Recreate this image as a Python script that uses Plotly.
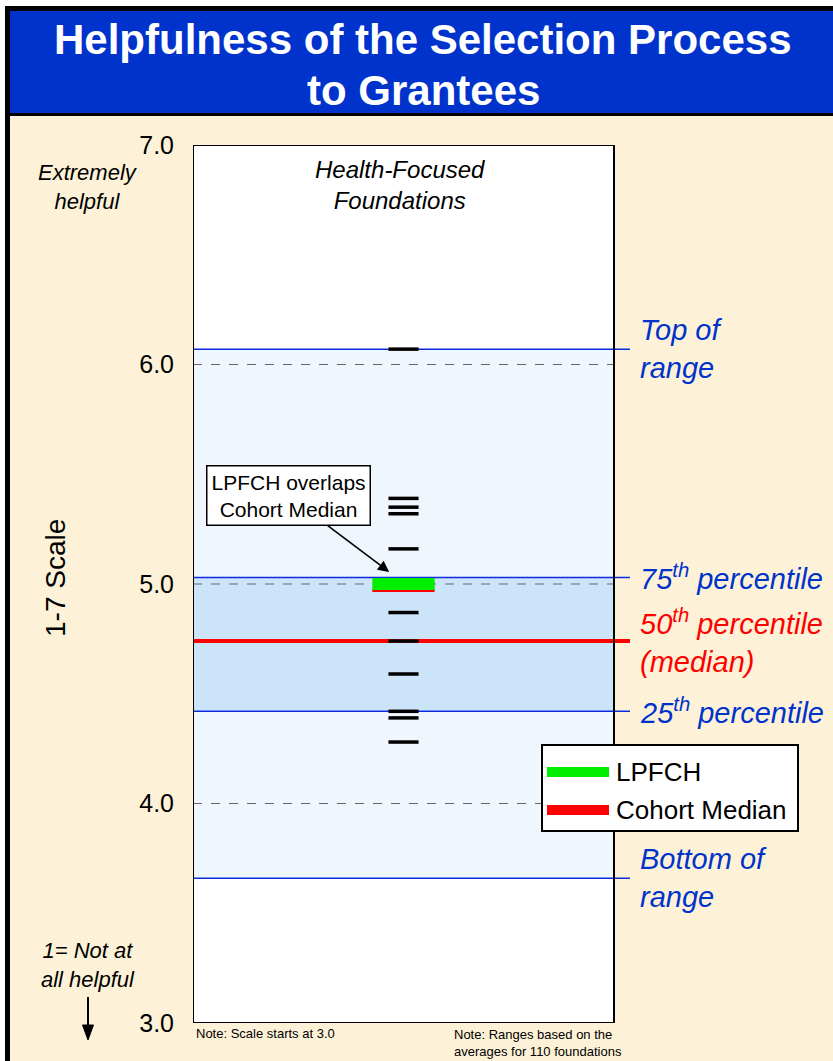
import plotly.graph_objects as go

# ---------------- data ----------------
cohort_label = "Health-Focused<br>Foundations"
foundation_averages = [6.07, 5.39, 5.35, 5.32, 5.16, 4.87, 4.74, 4.59, 4.42, 4.39, 4.28]
lpfch_score = 5.00
cohort_median = 4.97
range_names = ["Top of<br>range", "75<sup>th</sup> percentile", "50<sup>th</sup> percentile<br>(median)",
               "25<sup>th</sup> percentile", "Bottom of<br>range"]
range_values = [6.07, 5.03, 4.74, 4.42, 3.66]
range_colors = ["#0033CC", "#0033CC", "#FF0000", "#0033CC", "#0033CC"]
y_ticks = [3.0, 4.0, 5.0, 6.0, 7.0]
grid_lines = [4.0, 5.0, 6.0]
legend_names = ["LPFCH", "Cohort Median"]
legend_colors = ["#00EE00", "#FF0000"]

# ---------------- layout geometry ----------------
W, H = 833, 1061
L, R, T, B = 193, 660, 145, 1023      # plot area in pixels
PW, PH = R - L, B - T
X_MAX = PW / 421.0                    # x data 0..1 is the white chart box
FONT = "Liberation Sans, Arial, sans-serif"
CREAM = "#FDF2D7"
LINE_BLUE = "#0A2BE0"


def px(x):
    return (x - L) / PW


def py(y):
    return (B - y) / PH


CENTER = 0.5
TICK_HALF = 0.074
EXT = 1.038

fig = go.Figure()

# foundation averages (black dashes)
fig.add_trace(go.Scatter(
    x=[CENTER] * len(foundation_averages), y=foundation_averages, mode="markers",
    marker=dict(symbol="line-ew", size=21.5, line=dict(color="black", width=3.5)),
    showlegend=False, hoverinfo="y"))

# cohort median (red) and LPFCH (green)
fig.add_trace(go.Scatter(
    x=[CENTER - TICK_HALF, CENTER + TICK_HALF], y=[cohort_median, cohort_median],
    mode="lines", line=dict(color="#FF0000", width=3), showlegend=False, name="Cohort Median"))
fig.add_trace(go.Scatter(
    x=[CENTER - TICK_HALF, CENTER + TICK_HALF], y=[lpfch_score, lpfch_score],
    mode="lines", line=dict(color="#00EE00", width=12), showlegend=False, name="LPFCH"))

shapes = []
# page decorations
shapes.append(dict(type="rect", xref="paper", yref="paper", x0=px(0), x1=px(W), y0=py(0), y1=py(6),
                   fillcolor="white", line=dict(width=0), layer="below"))
shapes.append(dict(type="rect", xref="paper", yref="paper", x0=px(0), x1=px(5), y0=py(0), y1=py(H),
                   fillcolor="white", line=dict(width=0), layer="below"))
shapes.append(dict(type="rect", xref="paper", yref="paper", x0=px(5), x1=px(W), y0=py(6), y1=py(116),
                   fillcolor="black", line=dict(width=0), layer="below"))
shapes.append(dict(type="rect", xref="paper", yref="paper", x0=px(10), x1=px(W), y0=py(11), y1=py(113),
                   fillcolor="#0033CC", line=dict(width=0), layer="below"))
shapes.append(dict(type="rect", xref="paper", yref="paper", x0=px(5), x1=px(10), y0=py(6), y1=py(H),
                   fillcolor="black", line=dict(width=0), layer="below"))
# down arrow at bottom left
shapes.append(dict(type="line", xref="paper", yref="paper", x0=px(88), x1=px(88), y0=py(997), y1=py(1028),
                   line=dict(color="black", width=2)))
shapes.append(dict(type="path", xref="paper", yref="paper",
                   path="M %f,%f L %f,%f L %f,%f Z" % (px(82.5), py(1025), px(93.5), py(1025), px(88), py(1040)),
                   fillcolor="black", line=dict(color="black", width=1)))

# chart box and bands
shapes.append(dict(type="rect", xref="x", yref="y", x0=0, x1=1, y0=3, y1=7,
                   fillcolor="white", line=dict(width=0), layer="below"))
shapes.append(dict(type="rect", xref="x", yref="y", x0=0, x1=1, y0=range_values[4], y1=range_values[0],
                   fillcolor="#F0F6FD", line=dict(width=0), layer="below"))
shapes.append(dict(type="rect", xref="x", yref="y", x0=0, x1=1, y0=range_values[3], y1=range_values[1],
                   fillcolor="#CCE4FA", line=dict(width=0), layer="below"))
for g in grid_lines:
    shapes.append(dict(type="line", xref="x", yref="y", x0=0, x1=1, y0=g, y1=g,
                       line=dict(color="#666666", width=1, dash="dash"), layer="below"))
for v, c in zip(range_values, range_colors):
    if c == "#FF0000":
        shapes.append(dict(type="line", xref="x", yref="y", x0=0, x1=EXT, y0=v, y1=v,
                           line=dict(color="#FF0000", width=4), layer="below"))
    else:
        shapes.append(dict(type="line", xref="x", yref="y", x0=0, x1=EXT, y0=v, y1=v,
                           line=dict(color=LINE_BLUE, width=1.5), layer="below"))
shapes.append(dict(type="rect", xref="x", yref="y", x0=0, x1=1, y0=3, y1=7,
                   fillcolor="rgba(0,0,0,0)", line=dict(color="black", width=2), layer="below"))

# manual legend
shapes.append(dict(type="rect", xref="paper", yref="paper", x0=px(542), x1=px(798), y0=py(745), y1=py(831),
                   fillcolor="white", line=dict(color="black", width=2)))
leg_y = [772, 810]
for yy, col in zip(leg_y, legend_colors):
    shapes.append(dict(type="line", xref="paper", yref="paper", x0=px(547), x1=px(609), y0=py(yy), y1=py(yy),
                       line=dict(color=col, width=10)))

ann = []
for line_txt, yy in zip(["Helpfulness of the Selection Process", "to Grantees"], [40, 90]):
    ann.append(dict(text="<b>" + line_txt + "</b>", xref="paper", yref="paper",
                    x=px(423), y=py(yy), showarrow=False, font=dict(family=FONT, size=42, color="white"),
                    xanchor="center", yanchor="middle"))
ann.append(dict(text="1-7 Scale", xref="paper", yref="paper", x=px(55), y=py(578), textangle=-90,
                xanchor="center", yanchor="middle",
                showarrow=False, font=dict(family=FONT, size=28, color="black")))
ann.append(dict(text="<i>Extremely<br>helpful</i>", xref="paper", yref="paper", x=px(88), y=py(187),
                xanchor="center", yanchor="middle",
                showarrow=False, font=dict(family=FONT, size=22, color="black")))
ann.append(dict(text="<i>1= Not at<br>all helpful</i>", xref="paper", yref="paper", x=px(88), y=py(965),
                xanchor="center", yanchor="middle",
                showarrow=False, font=dict(family=FONT, size=22, color="black")))
ann.append(dict(text="<i>" + cohort_label + "</i>", xref="x", yref="paper", x=(400 - L) / 421.0,
                y=py(185), xanchor="center", yanchor="middle",
                showarrow=False, font=dict(family=FONT, size=24, color="black")))
for name, v, c in zip(range_names, range_values, range_colors):
    ann.append(dict(text="<i>" + name + "</i>", xref="paper", yref="y", x=px(638), y=v, xanchor="left",
                    yanchor="middle", align="left", showarrow=False,
                    font=dict(family=FONT, size=29, color=c)))
for name, yy in zip(legend_names, leg_y):
    ann.append(dict(text=name, xref="paper", yref="paper", x=px(614), y=py(yy), xanchor="left",
                    yanchor="middle", showarrow=False, font=dict(family=FONT, size=26, color="black")))
ann.append(dict(text="LPFCH overlaps<br>Cohort Median", xref="x", yref="y", x=0.466, y=5.055,
                ax=-101, ay=-76, showarrow=True, arrowhead=2, arrowsize=1.4, arrowwidth=1.6,
                arrowcolor="black", bgcolor="white", bordercolor="black", borderwidth=1.5, borderpad=4,
                font=dict(family=FONT, size=21, color="black")))
ann.append(dict(text="Note: Scale starts at 3.0", xref="paper", yref="paper", x=px(194), y=py(1033),
                xanchor="left", yanchor="middle", showarrow=False,
                font=dict(family=FONT, size=13, color="black")))
ann.append(dict(text="Note: Ranges based on the<br>averages for 110 foundations", xref="paper", yref="paper",
                x=px(452), y=py(1025), xanchor="left", yanchor="top", align="left", showarrow=False,
                font=dict(family=FONT, size=13, color="black")))

fig.update_layout(
    width=W, height=H,
    margin=dict(l=L, r=W - R, t=T, b=H - B, pad=0),
    paper_bgcolor=CREAM, plot_bgcolor=CREAM,
    xaxis=dict(range=[0, X_MAX], visible=False, fixedrange=True),
    yaxis=dict(range=[3, 7], tickvals=y_ticks, tickformat=".1f", showgrid=False, zeroline=False,
               showline=False, ticks="", ticklabelstandoff=18,
               tickfont=dict(family=FONT, size=25, color="black"), fixedrange=True),
    shapes=shapes, annotations=ann, showlegend=False,
    font=dict(family=FONT),
)

fig.write_html("out.html", config={"displayModeBar": False},
               post_script="document.body.style.margin='0px';")
